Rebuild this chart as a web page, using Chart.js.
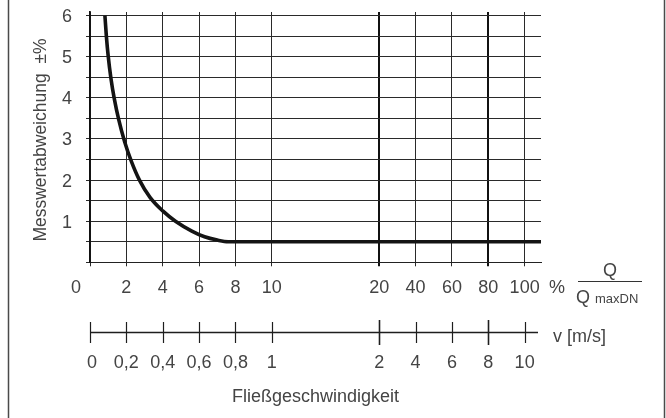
<!DOCTYPE html>
<html><head><meta charset="utf-8">
<script src="https://cdn.jsdelivr.net/npm/chart.js@4.4.1/dist/chart.umd.min.js"></script>
<style>html,body{margin:0;padding:0;background:#fff;overflow:hidden}#wrap{width:666px;height:418px}</style>
</head><body><div id="wrap"><canvas id="c" width="666" height="418"></canvas></div>
<script>
// ---- data ----
const flowPercentTicks = [0, 2, 4, 6, 8, 10, 20, 40, 60, 80, 100];
const flowPercentLabels = ['0', '2', '4', '6', '8', '10', '20', '40', '60', '80', '100'];
const velocityLabels = ['0', '0,2', '0,4', '0,6', '0,8', '1', '2', '4', '6', '8', '10'];
const heavyTicks = [20, 80];
const errorTicks = [0, 0.5, 1, 1.5, 2, 2.5, 3, 3.5, 4, 4.5, 5, 5.5, 6];
const errorLabels = ['', '', '1', '', '2', '', '3', '', '4', '', '5', '', '6'];
const curveFlow  = [0.82, 0.9, 1.0, 1.15, 1.34, 1.58, 1.9, 2.28, 2.72, 3.3, 4.0, 4.7, 5.6, 6.3, 7.0, 7.6, 8.2, 10, 20, 100];
const curveError = [6, 5.5, 5.02, 4.48, 3.97, 3.47, 2.94, 2.45, 2.0, 1.58, 1.25, 1.0, 0.76, 0.62, 0.54, 0.5, 0.5, 0.5, 0.5, 0.5];

// broken x axis of the drawing: 0..10 % linear, then 20..100 % in equal steps
function toAxis(q) {
  if (q <= 10) return q / 2;
  if (q < 20) return 5 + (q - 10) / 10 * 2.95;
  return 7.95 + (q - 20) / 20;
}
const X_MAX = 12.4;
const Y_MAX = 6.09;
const TEXT = '#444';
const LINE = '#1e1e1e';
const FONT = '"Liberation Sans", Arial, sans-serif';

const points = curveFlow.map((q, i) => ({ x: toAxis(q), y: curveError[i] }));
points.push({ x: X_MAX, y: curveError[curveError.length - 1] });

const decor = {
  id: 'decor',
  beforeDraw(chart) {
    const ctx = chart.ctx;
    ctx.save(); ctx.fillStyle = '#fff'; ctx.fillRect(0, 0, chart.width, chart.height); ctx.restore();
  },
  afterDraw(chart) {
    const { ctx, scales: { x, y } } = chart;
    ctx.save();
    // frame sides
    ctx.strokeStyle = '#4a4a4a'; ctx.lineWidth = 1.5;
    ctx.beginPath(); ctx.moveTo(8.5, 0); ctx.lineTo(8.5, 418); ctx.moveTo(664.5, 0); ctx.lineTo(664.5, 418); ctx.stroke();

    ctx.fillStyle = TEXT;
    ctx.font = '18px ' + FONT;
    ctx.textBaseline = 'alphabetic';
    // y tick labels
    ctx.textAlign = 'right';
    errorTicks.forEach((v, i) => { if (errorLabels[i]) ctx.fillText(errorLabels[i], 72, y.getPixelForValue(v) + 6.5); });
    // Q % tick labels
    ctx.textAlign = 'center';
    flowPercentTicks.forEach((q, i) => {
      let px = x.getPixelForValue(toAxis(q));
      if (i === 0) px -= 14;
      ctx.fillText(flowPercentLabels[i], px, 293);
    });
    ctx.textAlign = 'left';
    ctx.fillText('%', 549, 293);
    // fraction Q / Q maxDN
    ctx.textAlign = 'center';
    ctx.fillText('Q', 610, 276);
    ctx.strokeStyle = '#333'; ctx.lineWidth = 1.2;
    ctx.beginPath(); ctx.moveTo(578, 281.5); ctx.lineTo(642, 281.5); ctx.stroke();
    ctx.textAlign = 'left';
    ctx.fillText('Q', 576, 303);
    ctx.font = '13px ' + FONT;
    ctx.fillText('maxDN', 595, 303);

    // velocity axis
    const axY = 332.5;
    ctx.strokeStyle = LINE; ctx.lineWidth = 1.3;
    ctx.beginPath(); ctx.moveTo(x.getPixelForValue(0), axY); ctx.lineTo(538, axY); ctx.stroke();
    flowPercentTicks.forEach((q, i) => {
      const px = Math.round(x.getPixelForValue(toAxis(q))) + 0.5;
      const heavy = heavyTicks.includes(q);
      ctx.lineWidth = heavy ? 1.6 : 1.2;
      ctx.beginPath(); ctx.moveTo(px, heavy ? 320 : 322); ctx.lineTo(px, heavy ? 345 : 343); ctx.stroke();
    });
    ctx.font = '18px ' + FONT;
    ctx.textAlign = 'center';
    flowPercentTicks.forEach((q, i) => {
      let px = x.getPixelForValue(toAxis(q));
      if (i === 0) px += 2;
      ctx.fillText(velocityLabels[i], px, 368);
    });
    ctx.textAlign = 'left';
    ctx.fillText('v [m/s]', 553, 342);
    ctx.textAlign = 'center';
    ctx.fillText('Fließgeschwindigkeit', 315.5, 402);

    // y title
    ctx.save();
    ctx.translate(46, 140);
    ctx.rotate(-Math.PI / 2);
    ctx.font = '17.5px ' + FONT;
    ctx.textAlign = 'center';
    ctx.textBaseline = 'alphabetic';
    ctx.fillText('Messwertabweichung  \u00B1%', 0, 0);
    ctx.restore();
    ctx.restore();
  }
};

new Chart(document.getElementById('c'), {
  type: 'line',
  data: {
    datasets: [{
      data: points,
      borderColor: '#141414',
      borderWidth: 3.6,
      pointRadius: 0,
      fill: false,
      cubicInterpolationMode: 'monotone',
      clip: 4
    }]
  },
  options: {
    responsive: false,
    animation: false,
    devicePixelRatio: 1,
    layout: { padding: { left: 86, right: 125, top: 12, bottom: 151.7 } },
    plugins: { legend: { display: false }, tooltip: { enabled: false } },
    scales: {
      x: {
        type: 'linear', min: 0, max: X_MAX,
        afterBuildTicks: s => { s.ticks = flowPercentTicks.map(q => ({ value: toAxis(q) })); },
        ticks: { display: false },
        grid: {
          color: c => heavyTicks.includes(flowPercentTicks[c.index]) ? '#111' : '#2a2a2a',
          lineWidth: c => heavyTicks.includes(flowPercentTicks[c.index]) ? 2 : 1,
          tickLength: 4, drawTicks: true
        },
        border: { display: true, color: '#222', width: 1 }
      },
      y: {
        type: 'linear', min: 0, max: Y_MAX,
        afterBuildTicks: s => { s.ticks = errorTicks.map(v => ({ value: v })); },
        ticks: { display: false },
        grid: { color: '#2a2a2a', lineWidth: 1, tickLength: 4, drawTicks: true },
        border: { display: true, color: '#111', width: 1.8 }
      }
    }
  },
  plugins: [decor]
});
</script>
</body></html>
